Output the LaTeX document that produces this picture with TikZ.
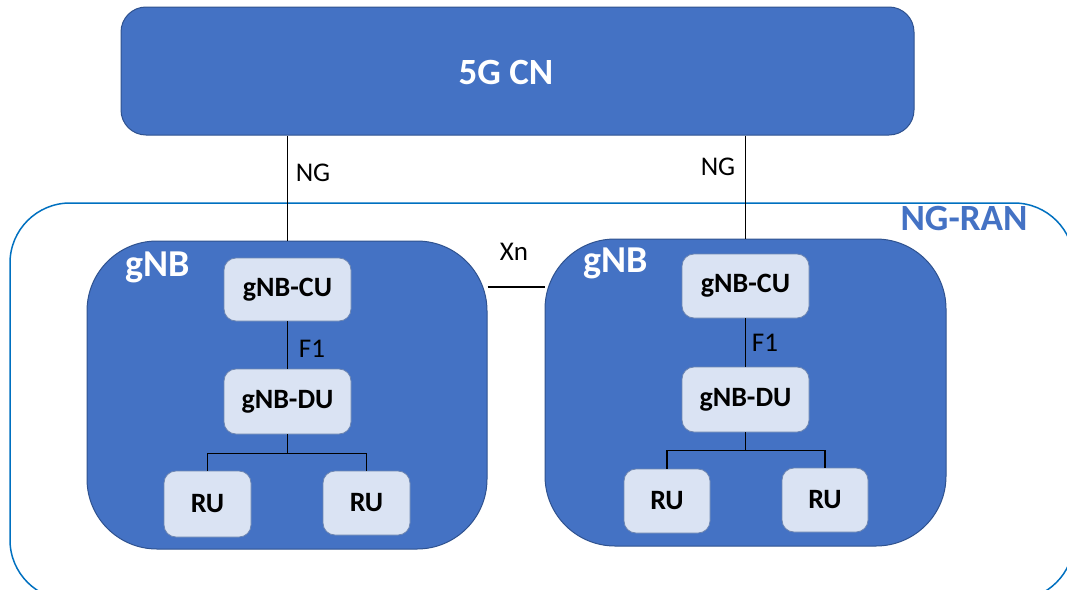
\documentclass[tikz,border=0pt]{standalone}
\usepackage{fontspec}
\setmainfont{Carlito}
\usetikzlibrary{backgrounds}
\definecolor{accent}{HTML}{4472C4}
\definecolor{edge}{HTML}{2F528F}
\definecolor{light}{HTML}{DAE3F3}
\definecolor{ranline}{HTML}{0070C0}
\begin{document}
\begin{tikzpicture}[x=1pt,y=-1pt,
  bigbox/.style={draw=edge,line width=1pt,fill=accent,rectangle,inner sep=0pt},
  biglbl/.style={text=white,font=\fontsize{38}{42}\selectfont\bfseries,inner sep=0pt},
  innerbox/.style={draw=edge!70,line width=0.8pt,fill=light,rectangle,rounded corners=12pt,inner sep=0pt,
    font=\fontsize{28}{32}\selectfont\bfseries,text=black},
  lbl/.style={font=\fontsize{27}{31}\selectfont,text=black,inner sep=0pt},
  conn/.style={draw=black,line width=1.2pt}]
\useasboundingbox (0,0) rectangle (1067,589);
\clip (0,0) rectangle (1067,589);
% NG-RAN region
\draw[ranline,line width=1.5pt,rounded corners=60pt] (10,203) rectangle (1074,600);
\node[text=accent,font=\fontsize{37}{42}\selectfont\bfseries,inner sep=0pt] (ranlbl) at (964,218) {NG-RAN};
% core
\node[bigbox,rounded corners=25pt,minimum width=793pt,minimum height=128pt] (cn) at (517.5,71) {};
\node[text=white,font=\fontsize{37}{42}\selectfont\bfseries,inner sep=0pt] (cnlbl) at (506,72) {5G CN};
% gNBs
\node[bigbox,rounded corners=70pt,minimum width=400pt,minimum height=308pt] (gnb1) at (287,395) {};
\node[bigbox,rounded corners=70pt,minimum width=401pt,minimum height=307pt] (gnb2) at (745.5,392.5) {};
\node[biglbl] (g1lbl) at (158,267) {gNB};
\node[biglbl] (g2lbl) at (616,263) {gNB};
% inner boxes
\node[innerbox,minimum width=127pt,minimum height=63pt] (cu1) at (287.5,289.5) {gNB-CU};
\node[innerbox,minimum width=127pt,minimum height=65pt] (du1) at (287.5,401.5) {gNB-DU};
\node[innerbox,minimum width=87pt,minimum height=66pt] (ru1a) at (207.5,504) {RU};
\node[innerbox,minimum width=87pt,minimum height=64pt] (ru1b) at (366.5,503) {RU};
\node[innerbox,minimum width=127pt,minimum height=64pt] (cu2) at (745.5,286) {gNB-CU};
\node[innerbox,minimum width=127pt,minimum height=65pt] (du2) at (745.5,399.5) {gNB-DU};
\node[innerbox,minimum width=86pt,minimum height=64pt] (ru2a) at (667,501) {RU};
\node[innerbox,minimum width=86pt,minimum height=64pt] (ru2b) at (825,500) {RU};
% connectors
\draw[conn] (cu1 |- cn.south) -- (cu1 |- gnb1.north);
\draw[conn] (cu2 |- cn.south) -- (cu2 |- gnb2.north);
\begin{scope}[on background layer]
\draw[conn] (gnb1.east |- 0,287) -- (gnb2.west |- 0,287);
\end{scope}
\draw[conn] (cu1) -- (du1);
\draw[conn] (cu2) -- (du2);
\draw[conn] (du1.south) -- ++(0,19) coordinate (t1) -| (ru1a.north);
\draw[conn] (t1) -| (ru1b.north);
\draw[conn] (du2.south) -- ++(0,18) coordinate (t2) -| (ru2a.north);
\draw[conn] (t2) -| (ru2b.north);
% labels
\node[lbl] (ng1) at (313,173) {NG};
\node[lbl] (ng2) at (718,167) {NG};
\node[lbl] (xn) at (514,252) {Xn};
\node[lbl] (f1a) at (312,349) {F1};
\node[lbl] (f1b) at (765,343) {F1};
\end{tikzpicture}
\end{document}
